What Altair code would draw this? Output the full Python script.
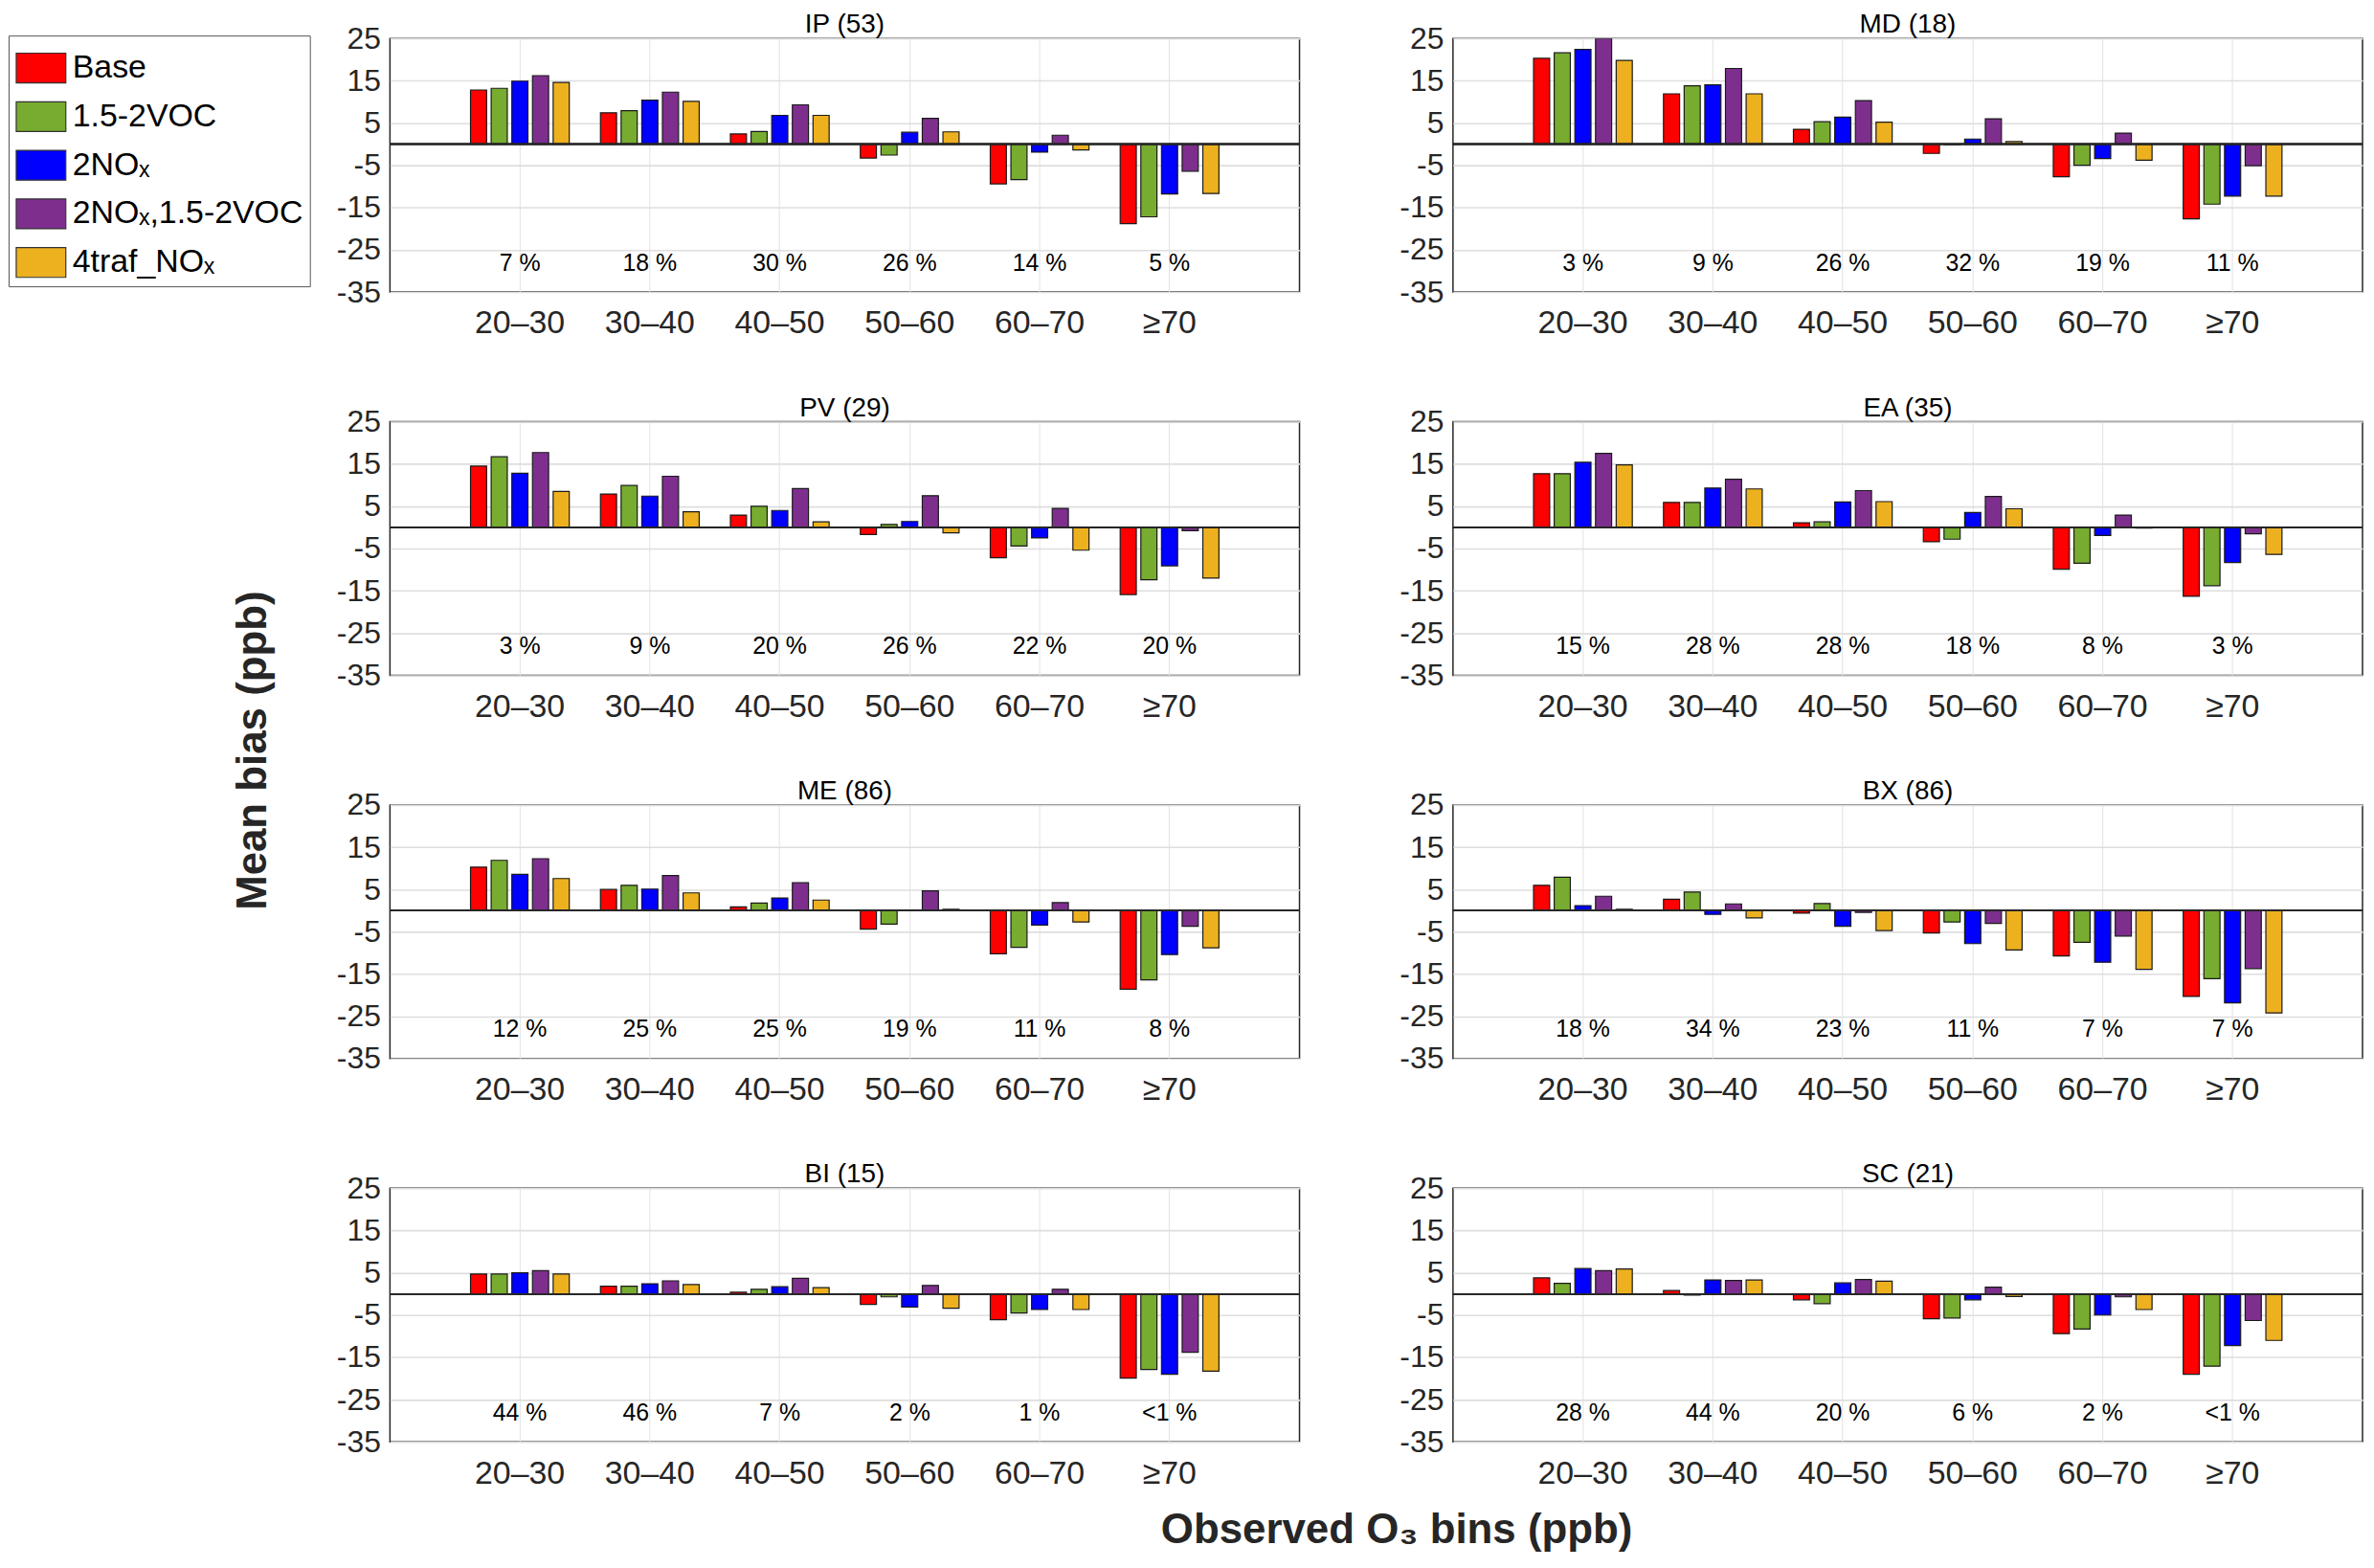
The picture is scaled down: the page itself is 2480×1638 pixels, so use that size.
import altair as alt
import pandas as pd

SERIES = ["Base", "1.5-2VOC", "2NOₓ", "2NOₓ,1.5-2VOC", "4traf_NOₓ"]
COLORS = ["#FF0000", "#77AC30", "#0000FF", "#7E2F8E", "#EDB120"]
BINS = ["20–30", "30–40", "40–50", "50–60", "60–70", "≥70"]
Y_TICKS = [-35, -30, -25, -20, -15, -10, -5, 0, 5, 10, 15, 20, 25]

# ---- IP (53)
ip_base = [12.8, 7.4, 2.4, -3.3, -9.4, -18.8]
ip_voc = [13.2, 7.9, 3.0, -2.6, -8.4, -17.2]
ip_nox = [14.9, 10.4, 6.8, 2.8, -1.9, -11.8]
ip_noxvoc = [16.2, 12.3, 9.3, 6.1, 2.1, -6.4]
ip_traf = [14.6, 10.1, 6.8, 2.9, -1.4, -11.7]
ip_pct = ["7 %", "18 %", "30 %", "26 %", "14 %", "5 %"]

# ---- MD (18)
md_base = [20.3, 11.9, 3.5, -2.2, -7.7, -17.7]
md_voc = [21.6, 13.8, 5.3, -0.15, -5.0, -14.2]
md_nox = [22.4, 14.0, 6.4, 1.2, -3.4, -12.3]
md_noxvoc = [25.0, 17.9, 10.3, 6.0, 2.6, -5.1]
md_traf = [19.8, 11.9, 5.2, 0.6, -3.8, -12.3]
md_pct = ["3 %", "9 %", "26 %", "32 %", "19 %", "11 %"]

# ---- PV (29)
pv_base = [14.5, 7.9, 2.9, -1.7, -7.2, -15.9]
pv_voc = [16.7, 9.9, 5.0, 0.7, -4.4, -12.4]
pv_nox = [12.8, 7.4, 4.0, 1.4, -2.5, -9.1]
pv_noxvoc = [17.7, 12.1, 9.2, 7.5, 4.5, -0.8]
pv_traf = [8.5, 3.7, 1.3, -1.3, -5.4, -12.0]
pv_pct = ["3 %", "9 %", "20 %", "26 %", "22 %", "20 %"]

# ---- EA (35)
ea_base = [12.7, 5.9, 1.1, -3.4, -9.9, -16.3]
ea_voc = [12.7, 5.9, 1.3, -2.8, -8.5, -13.8]
ea_nox = [15.4, 9.3, 6.0, 3.5, -1.9, -8.3]
ea_noxvoc = [17.5, 11.4, 8.7, 7.3, 2.9, -1.5]
ea_traf = [14.8, 9.1, 6.1, 4.4, -0.15, -6.4]
ea_pct = ["15 %", "28 %", "28 %", "18 %", "8 %", "3 %"]

# ---- ME (86)
me_base = [10.3, 5.0, 0.9, -4.4, -10.2, -18.6]
me_voc = [11.9, 6.0, 1.8, -3.2, -8.7, -16.4]
me_nox = [8.6, 5.1, 3.0, 0.1, -3.4, -10.4]
me_noxvoc = [12.3, 8.3, 6.6, 4.7, 1.9, -3.7]
me_traf = [7.6, 4.2, 2.5, 0.3, -2.7, -8.8]
me_pct = ["12 %", "25 %", "25 %", "19 %", "11 %", "8 %"]

# ---- BX (86)
bx_base = [6.0, 2.7, -0.6, -5.3, -10.7, -20.3]
bx_voc = [7.9, 4.4, 1.7, -2.7, -7.5, -16.1]
bx_nox = [1.2, -0.9, -3.7, -7.8, -12.2, -21.8]
bx_noxvoc = [3.4, 1.6, -0.4, -3.0, -6.0, -13.7]
bx_traf = [0.3, -1.7, -4.7, -9.3, -13.9, -24.2]
bx_pct = ["18 %", "34 %", "23 %", "11 %", "7 %", "7 %"]

# ---- BI (15)
bi_base = [4.7, 1.8, 0.4, -2.5, -6.1, -19.9]
bi_voc = [4.7, 1.8, 1.1, -0.7, -4.5, -17.9]
bi_nox = [5.0, 2.4, 1.7, -3.1, -3.7, -19.0]
bi_noxvoc = [5.5, 3.1, 3.7, 2.0, 1.1, -13.8]
bi_traf = [4.7, 2.2, 1.5, -3.4, -3.7, -18.3]
bi_pct = ["44 %", "46 %", "7 %", "2 %", "1 %", "<1 %"]

# ---- SC (21)
sc_base = [3.8, 0.8, -1.4, -5.9, -9.4, -19.0]
sc_voc = [2.5, -0.3, -2.3, -5.7, -8.3, -17.1]
sc_nox = [6.0, 3.3, 2.6, -1.4, -5.0, -12.2]
sc_noxvoc = [5.5, 3.2, 3.4, 1.6, -0.7, -6.3]
sc_traf = [5.9, 3.3, 3.0, -0.6, -3.7, -11.0]
sc_pct = ["28 %", "44 %", "20 %", "6 %", "2 %", "<1 %"]

FONT = "Liberation Sans"
W, H = 954, 266


def panel(title, series_vals, pct, legend=False):
    rows = []
    for s, vals in zip(SERIES, series_vals):
        for b, v in zip(BINS, vals):
            rows.append({"bin": b, "series": s, "value": v})
    df = pd.DataFrame(rows)
    pdf = pd.DataFrame({"bin": BINS, "pct": pct})

    xscale = alt.Scale(domain=BINS, paddingInner=0.24, paddingOuter=0.62)
    xaxis = alt.Axis(title=None, labelAngle=0, labelFontSize=34, labelPadding=16,
                     ticks=False, domain=False, grid=True, gridColor="#e2e2e2",
                     gridWidth=1, labelColor="#262626", labelFont=FONT)
    yscale = alt.Scale(domain=[-35, 25], nice=False, zero=False)
    yaxis = alt.Axis(title=None, values=Y_TICKS,
                     labelExpr="abs(datum.value % 10) == 5 ? '' + datum.value : ''",
                     labelFontSize=32, labelPadding=10, ticks=False, domain=False,
                     grid=True, gridColor="#dedede", gridWidth=1.6,
                     labelColor="#262626", labelFont=FONT)
    if legend:
        leg = alt.Legend(title=None, orient="none", legendX=-400, legendY=-3,
                         symbolType="M-1,-0.6H1V0.6H-1Z", symbolSize=2704,
                         symbolStrokeColor="#333333", symbolStrokeWidth=1.2,
                         symbolOpacity=1, labelFontSize=34, labelFont=FONT,
                         labelColor="#000000", rowPadding=6, labelOffset=6,
                         strokeColor="#555555", fillColor="white", padding=7,
                         labelLimit=500)
    else:
        leg = None
    color = alt.Color("series:N", scale=alt.Scale(domain=SERIES, range=COLORS),
                      legend=leg)

    bars = alt.Chart(df).mark_bar(stroke="#1a1a1a", strokeWidth=1.2, clip=True,
                                  opacity=1).encode(
        x=alt.X("bin:N", sort=BINS, scale=xscale, axis=xaxis),
        xOffset=alt.XOffset("series:N", sort=SERIES,
                            scale=alt.Scale(domain=SERIES, paddingInner=0.22)),
        y=alt.Y("value:Q", scale=yscale, axis=yaxis),
        y2=alt.datum(0),
        color=color,
    )
    zero = alt.Chart(pdf).mark_rule(color="#262626", strokeWidth=1.5).encode(
        y=alt.datum(0))
    text = alt.Chart(pdf).mark_text(fontSize=25, font=FONT, baseline="middle",
                                    color="#000000").encode(
        x=alt.X("bin:N", sort=BINS),
        y=alt.datum(-28.1),
        text="pct:N",
    )
    return alt.layer(bars, zero, text).properties(
        width=W, height=H,
        title=alt.TitleParams(title, fontSize=28, fontWeight="normal", font=FONT,
                              offset=-16, color="#000000"),
    )


p_ip = panel("IP (53)", [ip_base, ip_voc, ip_nox, ip_noxvoc, ip_traf], ip_pct, legend=True)
p_md = panel("MD (18)", [md_base, md_voc, md_nox, md_noxvoc, md_traf], md_pct)
p_pv = panel("PV (29)", [pv_base, pv_voc, pv_nox, pv_noxvoc, pv_traf], pv_pct)
p_ea = panel("EA (35)", [ea_base, ea_voc, ea_nox, ea_noxvoc, ea_traf], ea_pct)
p_me = panel("ME (86)", [me_base, me_voc, me_nox, me_noxvoc, me_traf], me_pct)
p_bx = panel("BX (86)", [bx_base, bx_voc, bx_nox, bx_noxvoc, bx_traf], bx_pct)
p_bi = panel("BI (15)", [bi_base, bi_voc, bi_nox, bi_noxvoc, bi_traf], bi_pct)
p_sc = panel("SC (21)", [sc_base, sc_voc, sc_nox, sc_noxvoc, sc_traf], sc_pct)

rows = [
    alt.hconcat(p_ip, p_md, spacing=102),
    alt.hconcat(p_pv, p_ea, spacing=102),
    alt.hconcat(p_me, p_bx, spacing=102),
    alt.hconcat(p_bi, p_sc, spacing=102),
]
inner = alt.vconcat(*rows, spacing=56).properties(
    title=alt.TitleParams("Mean bias (ppb)", orient="left", fontSize=44,
                          fontWeight="bold", font=FONT, color="#262626",
                          offset=64, anchor="middle"))
chart = alt.vconcat(inner).properties(
    title=alt.TitleParams("Observed O₃ bins (ppb)", orient="bottom", fontSize=44,
                          fontWeight="bold", font=FONT, color="#262626",
                          offset=20, anchor="middle", dx=221),
    padding={"left": 0, "top": 0, "right": 2, "bottom": 2},
).configure_view(stroke="#262626", strokeWidth=1.5).configure_concat(spacing=0)

chart.save("out.html", embed_options={"renderer": "svg", "actions": False})
